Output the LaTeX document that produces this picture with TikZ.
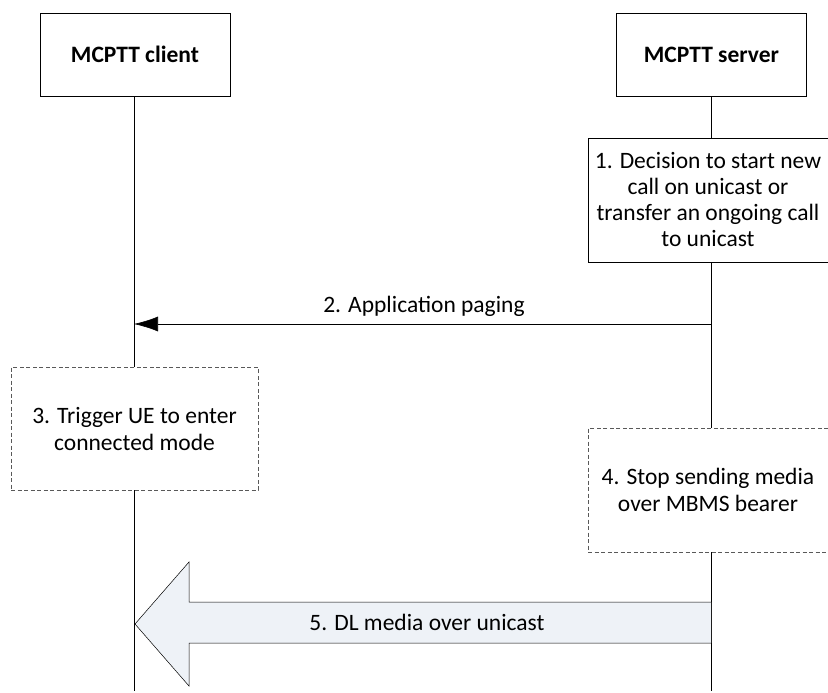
\documentclass[tikz,border=0pt]{standalone}
\usepackage{fontspec}
\setmainfont{Carlito}
\usetikzlibrary{arrows.meta}
\begin{document}
\begin{tikzpicture}[x=1pt,y=-1pt,
  hdr/.style={draw=black,line width=0.6pt,minimum width=190pt,minimum height=83pt,font=\fontsize{23.5}{26}\selectfont\bfseries,inner sep=0pt},
  solidbox/.style={draw=black,line width=0.6pt,fill=white,align=center,font=\fontsize{23.5}{26}\selectfont,inner sep=0pt},
  dashbox/.style={draw=black!65,line width=0.7pt,dash pattern=on 4pt off 2.5pt,fill=white,align=center,font=\fontsize{23.5}{27}\selectfont,inner sep=0pt},
  life/.style={line width=0.6pt},
  lbl/.style={font=\fontsize{23.5}{26}\selectfont,inner sep=0pt,anchor=base}]
\useasboundingbox (0,0) rectangle (828,693);
% headers
\node[hdr] (client) at (135,54.5) {MCPTT client};
\node[hdr] (server) at (711.5,54.5) {MCPTT server};
\coordinate (cEnd) at (134,691);
\coordinate (sEnd) at (711,691);
\draw[life] (client.south -| cEnd) -- (cEnd);
\draw[life] (server.south -| sEnd) -- (sEnd);
% step 1
\node[solidbox,minimum width=240pt,minimum height=124pt] (s1) at (708,200) {1. Decision to start new\\call on unicast or\\transfer an ongoing call\\to unicast};
% step 2 arrow
\coordinate (a2s) at (711,324);
\coordinate (a2e) at (134,324);
\draw[life,-{Latex[length=24pt,width=15pt]}] (a2s) -- (a2e);
\node[lbl] (m2) at (424,312) {2. Application paging};
% step 3
\node[dashbox,minimum width=247pt,minimum height=123pt] (s3) at (134.5,428.5) {3. Trigger UE to enter\\connected mode};
% step 4
\node[dashbox,minimum width=240pt,minimum height=124pt] (s4) at (708,490) {4. Stop sending media\\over MBMS bearer};
% step 5 block arrow
\coordinate (tip) at (135,624);
\draw[line width=0.5pt,fill={rgb,255:red,238;green,242;blue,247}]
  (711,602) -- (189,602) -- (189,562) -- (tip) -- (189,686) -- (189,643) -- (711,643);
\node[lbl] (m5) at (427,630) {5. DL media over unicast};
\end{tikzpicture}
\end{document}
